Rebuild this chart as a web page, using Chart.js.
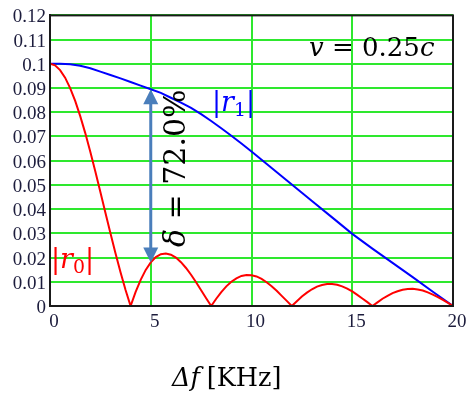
<!DOCTYPE html>
<html>
<head>
<meta charset="utf-8">
<script src="https://cdn.jsdelivr.net/npm/chart.js@4/dist/chart.umd.min.js"></script>
<style>
  html, body { margin: 0; padding: 0; background: #fff; }
  #wrap { width: 469px; height: 394px; }
</style>
</head>
<body>
<div id="wrap"><canvas id="c" width="469" height="394"></canvas></div>
<script>
// |r0|, every 0.25 KHz
const r0Freq = [0,0.25,0.5,0.75,1,1.25,1.5,1.75,2,2.25,2.5,2.75,3,3.25,3.5,3.75,
  4,4.25,4.5,4.75,5,5.25,5.5,5.75,6,6.25,6.5,6.75,7,7.25,7.5,7.75,
  8,8.25,8.5,8.75,9,9.25,9.5,9.75,10,10.25,10.5,10.75,11,11.25,11.5,11.75,
  12,12.25,12.5,12.75,13,13.25,13.5,13.75,14,14.25,14.5,14.75,15,15.25,15.5,15.75,
  16,16.25,16.5,16.75,17,17.25,17.5,17.75,18,18.25,18.5,18.75,19,19.25,19.5,19.75,20];
const r0Values = [0.1,0.0994,0.0974,0.0943,0.09,0.0847,0.0784,0.0714,0.0637,0.0555,0.0471,0.0385,0.03,0.0218,0.0139,0.0066,
  0,0.0058,0.0108,0.0149,0.018,0.0202,0.0214,0.0217,0.0212,0.02,0.0181,0.0157,0.0129,0.0098,0.0065,0.0032,
  0,0.003,0.0057,0.0081,0.01,0.0114,0.0124,0.0128,0.0127,0.0122,0.0112,0.0098,0.0082,0.0063,0.0042,0.0021,
  0,0.002,0.0039,0.0055,0.0069,0.008,0.0087,0.0091,0.0091,0.0088,0.0081,0.0072,0.006,0.0046,0.0031,0.0016,
  0,0.0015,0.003,0.0042,0.0053,0.0061,0.0067,0.007,0.0071,0.0068,0.0064,0.0056,0.0047,0.0037,0.0025,0.0013,0];

// |r1|
const r1Freq = [0,0.5,1,1.5,2,2.5,3,3.5,4,4.5,5,5.5,6,6.5,7,7.5,8,8.5,9,9.5,10,11,12,13,14,15,16,17,18,19,20];
const r1Values = [0.1,0.1,0.0998,0.0992,0.0982,0.0968,0.0954,0.094,0.0925,0.091,0.0895,0.088,0.086,0.084,0.0818,0.0792,
  0.0764,0.0734,0.0703,0.0671,0.0638,0.057,0.0502,0.0434,0.0366,0.0298,0.0237,0.0178,0.0119,0.0059,0];

const xTicks = [0, 5, 10, 15, 20];
const yMax = 0.12;
const deltaFreq = 5;   // where the double arrow sits

const toPts = (xs, ys) => xs.map((x, i) => ({ x: x, y: ys[i] }));

const MATH = '"DejaVu Serif", serif';

function drawMath(ctx, x, y, parts, size) {
  ctx.textBaseline = 'alphabetic';
  ctx.textAlign = 'left';
  parts.forEach(p => {
    const s = size * (p.scale || 1);
    ctx.font = (p.italic ? 'italic ' : '') + s + 'px ' + MATH;
    ctx.fillText(p.t, x, y + (p.dy || 0));
    x += ctx.measureText(p.t).width + (p.gap || 0);
  });
}

const annotations = {
  id: 'annotations',
  afterDatasetsDraw(chart) {
    const { ctx, chartArea: a, scales: { x, y } } = chart;
    ctx.save();

    // frame
    ctx.strokeStyle = '#1a1a1a';
    ctx.lineWidth = 2;
    ctx.strokeRect(a.left, a.top, a.right - a.left, a.bottom - a.top);

    // double arrow between the two curves
    const i0 = r0Freq.indexOf(deltaFreq), i1 = r1Freq.indexOf(deltaFreq);
    const ax = x.getPixelForValue(deltaFreq);
    const yTop = y.getPixelForValue(r1Values[i1]);
    const yBot = y.getPixelForValue(r0Values[i0]);
    const hl = 15, hw = 7.5;
    ctx.strokeStyle = '#4a7ebb';
    ctx.fillStyle = '#4a7ebb';
    ctx.lineWidth = 3;
    ctx.beginPath();
    ctx.moveTo(ax, yTop + hl - 1);
    ctx.lineTo(ax, yBot - hl + 1);
    ctx.stroke();
    ctx.beginPath();
    ctx.moveTo(ax, yTop); ctx.lineTo(ax - hw, yTop + hl); ctx.lineTo(ax + hw, yTop + hl); ctx.closePath();
    ctx.fill();
    ctx.beginPath();
    ctx.moveTo(ax, yBot); ctx.lineTo(ax - hw, yBot - hl); ctx.lineTo(ax + hw, yBot - hl); ctx.closePath();
    ctx.fill();

    // delta label, rotated
    ctx.fillStyle = '#000';
    ctx.save();
    ctx.translate(185, 247);
    ctx.rotate(-Math.PI / 2);
    drawMath(ctx, 0, 0, [{ t: 'δ', italic: true }, { t: ' = 72.0%' }], 30);
    ctx.restore();

    // v = 0.25c
    ctx.fillStyle = '#000';
    drawMath(ctx, 309, 56, [{ t: 'v', italic: true }, { t: ' = 0.25' }, { t: 'c', italic: true }], 26);

    // |r1|
    ctx.fillStyle = '#0000ff';
    drawMath(ctx, 212, 111, [{ t: '|' }, { t: 'r', italic: true }, { t: '1', scale: 0.7, dy: 5 }, { t: '|' }], 27);

    // |r0|
    ctx.fillStyle = '#ff0000';
    drawMath(ctx, 51, 268, [{ t: '|' }, { t: 'r', italic: true }, { t: '0', scale: 0.7, dy: 5 }, { t: '|' }], 27);

    // x axis title
    ctx.fillStyle = '#000';
    drawMath(ctx, 172, 386, [{ t: 'Δf', italic: true, gap: 7 }, { t: '[KHz]' }], 25.5);

    ctx.restore();
  }
};

const tickFont = { family: 'Liberation Serif', size: 19 };
const tickColor = '#1c1c3c';
const gridGreen = '#2ee82e';

new Chart(document.getElementById('c').getContext('2d'), {
  type: 'line',
  data: {
    datasets: [
      {
        label: '|r0|',
        data: toPts(r0Freq, r0Values),
        borderColor: '#ff0000',
        borderWidth: 2,
        pointRadius: 0,
        tension: 0,
        fill: false
      },
      {
        label: '|r1|',
        data: toPts(r1Freq, r1Values),
        borderColor: '#0000ff',
        borderWidth: 2,
        pointRadius: 0,
        tension: 0,
        fill: false
      }
    ]
  },
  options: {
    responsive: false,
    animation: false,
    devicePixelRatio: 1,
    layout: { padding: { top: 12, right: 16, left: 0, bottom: 0 } },
    plugins: { legend: { display: false }, tooltip: { enabled: false } },
    scales: {
      x: {
        type: 'linear',
        min: 0,
        max: 20,
        afterBuildTicks: s => { s.ticks = xTicks.map(v => ({ value: v })); },
        afterFit: s => { s.height = 88; },
        grid: { color: gridGreen, lineWidth: 2, drawTicks: false },
        border: { display: true, color: '#1a1a1a', width: 2 },
        ticks: { font: tickFont, color: tickColor, padding: 5, labelOffset: 4, maxRotation: 0 }
      },
      y: {
        type: 'linear',
        min: 0,
        max: yMax,
        afterFit: s => { s.width = 50; },
        grid: { color: gridGreen, lineWidth: 2, drawTicks: false },
        border: { display: true, color: '#1a1a1a', width: 2 },
        ticks: {
          stepSize: 0.01,
          autoSkip: false,
          font: tickFont,
          color: tickColor,
          padding: 4,
          labelOffset: 2,
          callback: v => String(+v.toFixed(2))
        }
      }
    }
  },
  plugins: [annotations]
});
</script>
</body>
</html>
